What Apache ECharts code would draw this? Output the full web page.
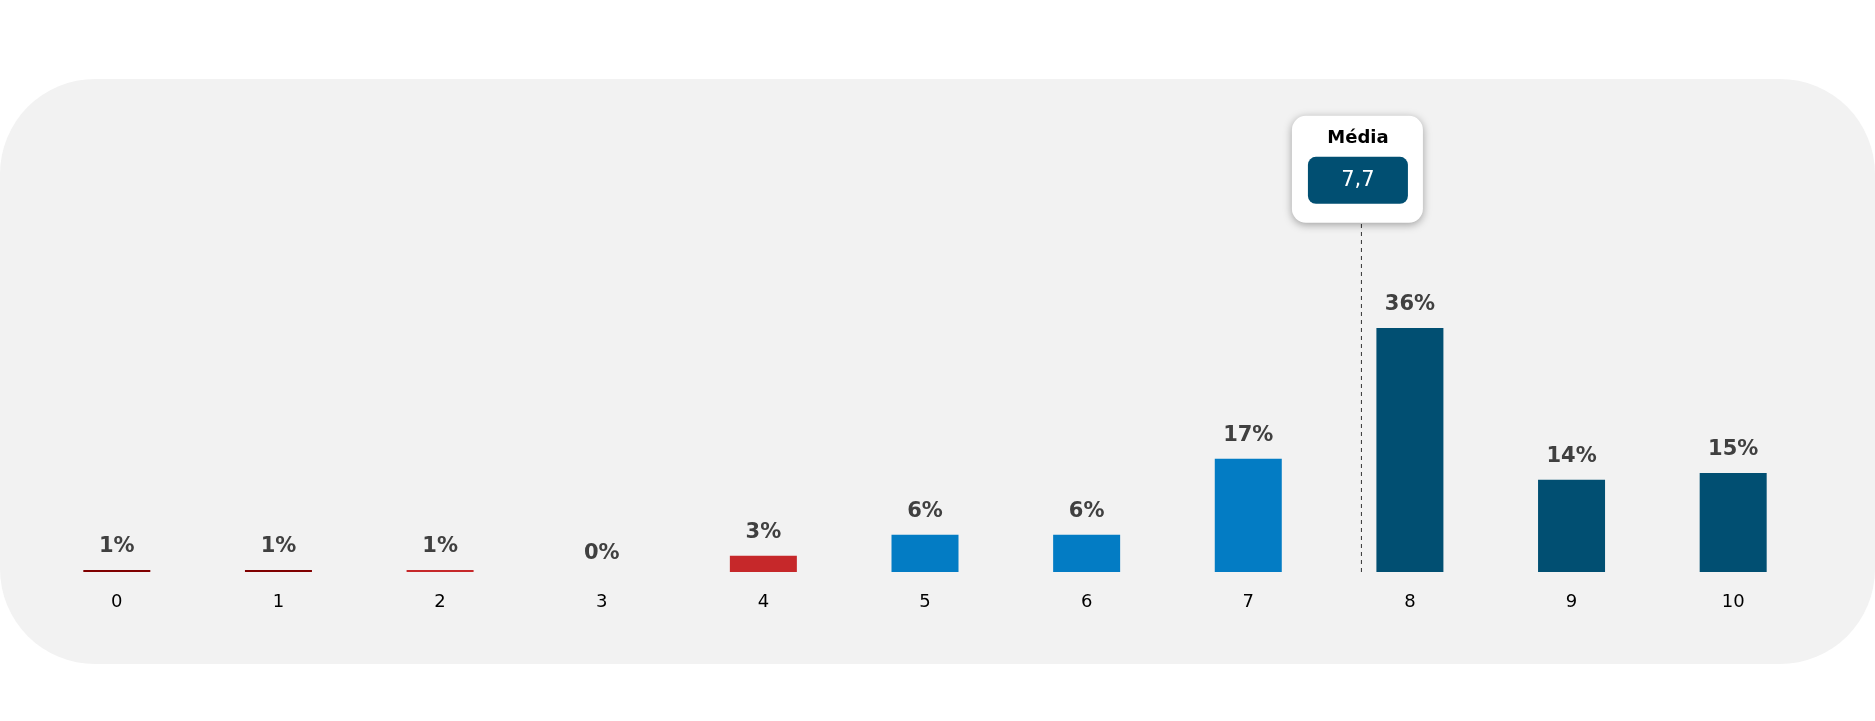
<!DOCTYPE html>
<html>
<head>
<meta charset="utf-8">
<script src="https://cdn.jsdelivr.net/npm/echarts@6/dist/echarts.min.js"></script>
<style>
html,body{margin:0;padding:0;background:#fff;}
#c{width:1875px;height:721px;}
</style>
</head>
<body>
<div id="c"></div>
<script>
const categories = ['0','1','2','3','4','5','6','7','8','9','10'];
const values = [0.3, 0.3, 0.3, 0, 2.4, 5.5, 5.5, 16.7, 36, 13.6, 14.6];
const valueLabels = ['1%','1%','1%','0%','3%','6%','6%','17%','36%','14%','15%'];
const barColors = ['#800000','#800000','#C6282A','#C6282A','#C6282A','#037CC4','#037CC4','#037CC4','#014F72','#014F72','#014F72'];
const meanValue = 7.7;
const meanText = '7,7';
const meanTitle = 'Média';
const meanLineTop = 51.5;

const FONT = "Tahoma, 'DejaVu Sans', sans-serif";

const chart = echarts.init(document.getElementById('c'), null, {renderer:'canvas'});

const barData = values.map((v, i) => {
  const item = { value: v, itemStyle: { color: barColors[i] } };
  if (v === 0) item.label = { offset: [0, 5] };
  return item;
});

chart.setOption({
  backgroundColor: '#ffffff',
  animation: false,
  graphic: [{
    type: 'rect',
    silent: true,
    z: -10,
    shape: { x: 0, y: 79, width: 1875, height: 585, r: 95 },
    style: { fill: '#F2F2F2' }
  }],
  grid: { left: 36, right: 61, top: 97.4, bottom: 149, containLabel: false },
  xAxis: [{
    type: 'category',
    data: categories,
    axisLine: { show: false },
    axisTick: { show: false },
    axisLabel: { color: '#000', fontFamily: FONT, fontSize: 18, margin: 21 }
  }, {
    type: 'value',
    min: -0.5,
    max: 10.5,
    show: false
  }],
  yAxis: {
    type: 'value',
    min: 0,
    max: 70,
    show: false,
    splitLine: { show: false }
  },
  series: [{
    type: 'bar',
    xAxisIndex: 0,
    data: barData,
    barWidth: 67,
    label: {
      show: true,
      position: 'top',
      distance: 13,
      color: '#404040',
      fontFamily: FONT,
      fontWeight: 'bold',
      fontSize: 21,
      formatter: p => valueLabels[p.dataIndex]
    },
    z: 3
  }, {
    type: 'line',
    xAxisIndex: 1,
    data: [[meanValue, 0], [meanValue, meanLineTop]],
    showSymbol: false,
    symbol: 'none',
    lineStyle: { color: '#333', width: 1, type: [4, 4] },
    z: 2
  }, {
    type: 'scatter',
    xAxisIndex: 1,
    data: [[meanValue, meanLineTop]],
    symbolSize: 0,
    itemStyle: { opacity: 1 },
    emphasis: { disabled: true },
    z: 5,
    label: {
      show: true,
      opacity: 1,
      position: 'top',
      distance: 0,
      offset: [-4, 0],
      formatter: '{t|' + meanTitle + '}\n{v|' + meanText + '}',
      backgroundColor: '#ffffff',
      borderRadius: 14,
      padding: [3, 15, 19, 16],
      shadowBlur: 8,
      shadowColor: 'rgba(0,0,0,0.35)',
      shadowOffsetY: 2,
      rich: {
        t: { fontFamily: FONT, fontSize: 18, fontWeight: 'bold', color: '#000', lineHeight: 38, align: 'center' },
        v: { fontFamily: FONT, fontSize: 21, color: '#fff', backgroundColor: '#014F72', borderRadius: 8, width: 100, height: 47, lineHeight: 47, align: 'center' }
      }
    }
  }]
});
</script>
</body>
</html>
